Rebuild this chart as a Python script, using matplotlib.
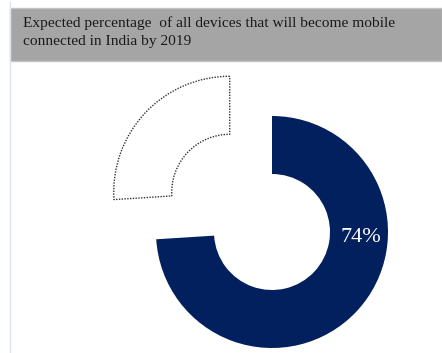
import matplotlib
matplotlib.use("Agg")
import matplotlib.pyplot as plt
from matplotlib.patches import Rectangle
from matplotlib.lines import Line2D

# share of devices that will be mobile connected vs. the rest
labels = ["Mobile connected", "Other"]
shares = [74, 26]
title = "Expected percentage  of all devices that will become mobile\nconnected in India by 2019"

W, H = 442, 353
fig = plt.figure(figsize=(W / 100, H / 100), dpi=100)
fig.patch.set_facecolor("white")


def fx(px):
    return px / W


def fy(py):
    return 1 - py / H


# thin page rule on the left and the grey header band
fig.add_artist(Line2D([fx(9.5), fx(9.5)], [fy(2), fy(352)], color="#dde3ec", lw=1))
fig.add_artist(Rectangle((fx(10), fy(61)), fx(432), 53 / H, transform=fig.transFigure,
                         facecolor="#a5a5a5", edgecolor="#c4c4c4", lw=1))
fig.text(fx(23), fy(16), title, ha="left", va="top", fontsize=11.1,
         family="Liberation Serif", color="#1a1a1a", linespacing=1.55)

# donut: 1 data unit = 116 px, centre at (272, 232) px
ax = fig.add_axes([fx(10), 0, fx(432), 1 - 62 / H])
ax.axis("off")

wedges, _ = ax.pie(shares, labels=None, startangle=90, counterclock=False,
                   explode=[0, 0.5], radius=1,
                   wedgeprops=dict(width=0.5, linewidth=0))
wedges[0].set_facecolor("#02205e")
wedges[1].set_facecolor("white")
wedges[1].set_edgecolor("#333333")
wedges[1].set_linewidth(1.0)
wedges[1].set_linestyle((0, (1, 1)))
ax.set_xlim((10 - 272) / 116, (442 - 272) / 116)
ax.set_ylim((232 - 353) / 116, (232 - 62) / 116)
ax.set_aspect("auto")

ax.text(0.77, -0.05, f"{shares[0]}%", ha="center", va="center", fontsize=16,
        family="Liberation Serif", color="white")

fig.savefig("out.png", dpi=100)
